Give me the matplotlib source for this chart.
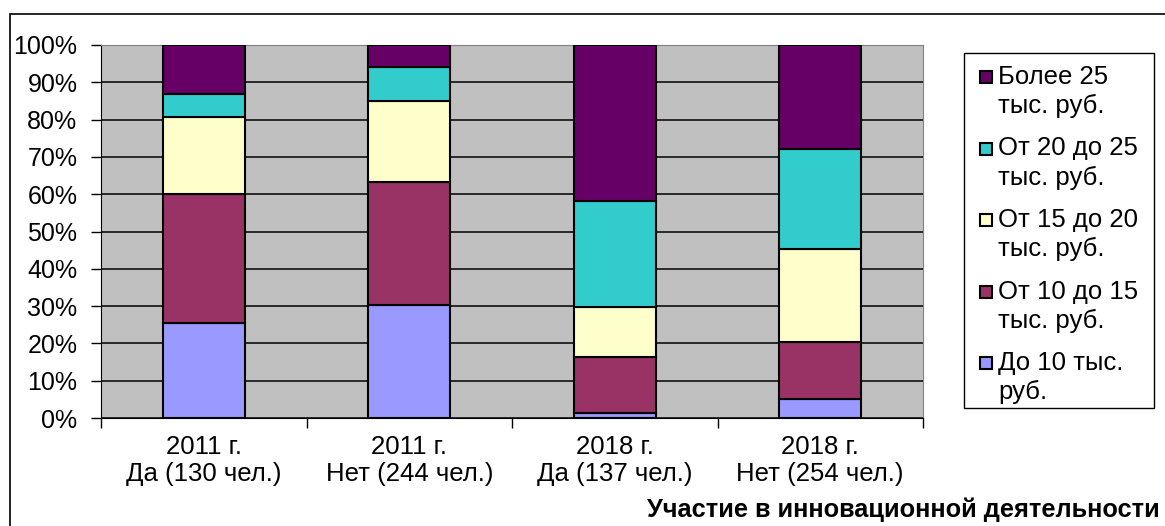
import numpy as np
import matplotlib.pyplot as plt
from matplotlib.patches import Rectangle
from matplotlib.ticker import PercentFormatter

plt.rcParams['font.family'] = ['Liberation Sans', 'DejaVu Sans']

groups = ["2011 г.\nДа (130 чел.)", "2011 г.\nНет (244 чел.)",
          "2018 г.\nДа (137 чел.)", "2018 г.\nНет (254 чел.)"]

series = [("До 10 тыс.", "руб."), ("От 10 до 15", "тыс. руб."),
          ("От 15 до 20", "тыс. руб."), ("От 20 до 25", "тыс. руб."),
          ("Более 25", "тыс. руб.")]
colors = ["#9999FF", "#993366", "#FFFFCC", "#33CCCC", "#660066"]

# shares, %
upto10 = [25.5, 30.2, 1.4, 5.2]
from10to15 = [34.5, 33.2, 15.0, 15.3]
from15to20 = [20.8, 21.6, 13.3, 24.7]
from20to25 = [6.0, 9.1, 28.6, 27.0]
over25 = [13.2, 5.9, 41.7, 27.8]
values = [upto10, from10to15, from15to20, from20to25, over25]

W, H = 1165, 526

fig = plt.figure(figsize=(W / 100, H / 100), dpi=100)
ax = fig.add_axes([101 / W, 1 - 418 / H, 822 / W, 373 / H])
ax.set_facecolor("#C0C0C0")

x = np.arange(len(groups))
bottom = np.zeros(len(groups))
for vals, col in zip(values, colors):
    ax.bar(x, vals, width=0.4, bottom=bottom, color=col, edgecolor="black",
           linewidth=1.5, zorder=3)
    bottom += np.array(vals)

ax.set_xlim(-0.5, len(groups) - 0.5)
ax.set_ylim(0, 100)
ax.set_yticks(np.arange(0, 101, 10))
ax.yaxis.set_major_formatter(PercentFormatter(decimals=0))
ax.grid(axis="y", color="black", linewidth=1.1, zorder=1)
ax.tick_params(axis="y", labelsize=18, length=7, width=1, pad=10)

ax.set_xticks(np.arange(-0.5, len(groups), 1.0))
ax.set_xticklabels([])
ax.set_xticks(x, minor=True)
ax.set_xticklabels(groups, minor=True, fontsize=18.5, linespacing=1.2)
ax.tick_params(axis="x", which="major", length=7, width=1)
ax.tick_params(axis="x", which="minor", length=0, pad=12)

for s in ["top", "right"]:
    ax.spines[s].set_color("#808080")
for s in ["left", "bottom"]:
    ax.spines[s].set_color("black")


def fx(px):
    return px / W


def fy(py):
    return 1 - py / H


# legend box, drawn by hand so the marker sits on the first line
fig.patches.append(Rectangle((fx(964), fy(408)), fx(1154) - fx(964), fy(53) - fy(408),
                             transform=fig.transFigure, facecolor="white",
                             edgecolor="black", linewidth=1))
for i, ((l1, l2), col) in enumerate(zip(series[::-1], colors[::-1])):
    yc = 77 + i * 71.5
    fig.patches.append(Rectangle((fx(980), fy(yc + 6)), fx(12), 12 / H,
                                 transform=fig.transFigure, facecolor=col,
                                 edgecolor="black", linewidth=1.5))
    fig.text(fx(998), fy(yc), l1, ha="left", va="center", fontsize=18.5)
    fig.text(fx(998), fy(yc + 29), l2, ha="left", va="center", fontsize=18.5)

fig.text(fx(1160), fy(510), "Участие в инновационной деятельности",
         ha="right", va="center", fontsize=18.3, fontweight="bold")

fig.patches.append(Rectangle((fx(10), -0.1), 1.2, 1.1 - 14 / H,
                             transform=fig.transFigure, fill=False,
                             edgecolor="black", linewidth=1.2))

fig.savefig("out.png", dpi=100)
